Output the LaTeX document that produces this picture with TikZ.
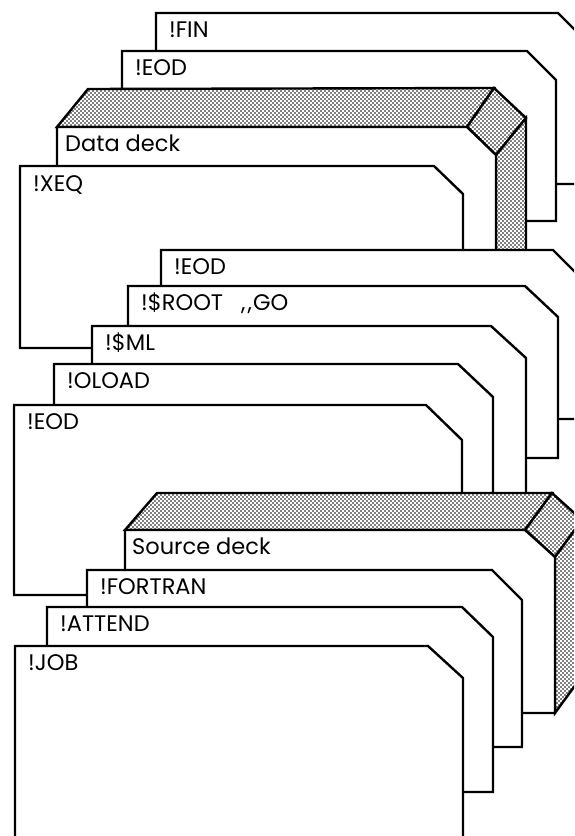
\documentclass[tikz,border=0pt]{standalone}
\usepackage{fontspec}
\setmainfont{Poppins}
\usetikzlibrary{patterns}
\pgfdeclarepatternformonly{halftone}{\pgfpoint{-0.1pt}{-0.1pt}}{\pgfpoint{4.1pt}{4.1pt}}{\pgfpoint{4pt}{4pt}}{%
  \pgfpathcircle{\pgfpoint{1pt}{1pt}}{0.85pt}\pgfpathcircle{\pgfpoint{3pt}{3pt}}{0.85pt}\pgfusepath{fill}}
\tikzset{
  cardline/.style={draw=black, line width=2.4pt, line join=miter, fill=white},
  shadeface/.style={draw=black, line width=2.4pt, line join=miter, preaction={fill=white}, pattern=halftone},
  lbl/.style={anchor=base west, inner sep=0pt, font=\fontsize{22.5}{22.5}\selectfont}
}
% L T C R Yc B
\newcommand\deckcard[6]{\filldraw[cardline] (#1,#6) -- (#1,#2) -- (#3,#2) -- (#4,#5) -- (#4,#6) -- cycle;}
\begin{document}
\begin{tikzpicture}[x=1pt,y=-1pt]
\useasboundingbox (0,0) rectangle (574,836);
\clip (0,0) rectangle (574,836);
% ---- section 3 ----
\deckcard{156}{13}{558}{590}{45}{184}
\deckcard{122}{51}{527}{556}{80}{221}
% data deck block
\filldraw[shadeface] (57,127) -- (88,89) -- (494,88) -- (467,127) -- cycle;
\filldraw[shadeface] (467,127) -- (494,88) -- (526,118) -- (496,155) -- cycle;
\filldraw[shadeface] (496,155) -- (526,118) -- (526,320) -- (496,320) -- cycle;
\deckcard{57}{127}{467}{496}{155}{320}
\deckcard{20}{166}{434}{463}{194}{348}
% ---- section 2 ----
\deckcard{161}{250}{553}{585}{282}{419}
\deckcard{128}{286}{525}{558}{317}{458}
\deckcard{92}{326}{491}{526}{358}{520}
\deckcard{54}{364}{458}{493}{397}{540}
\deckcard{14}{405}{426}{462}{440}{595}
% ---- section 1 ----
\filldraw[shadeface] (125,530) -- (157,493) -- (552,493) -- (525,530) -- cycle;
\filldraw[shadeface] (525,530) -- (552,493) -- (582,520) -- (555,557) -- cycle;
\filldraw[shadeface] (555,557) -- (582,520) -- (582,676) -- (555,713) -- cycle;
\deckcard{125}{530}{525}{555}{557}{713}
\deckcard{87}{570}{492}{522}{600}{747}
\deckcard{47}{607}{462}{493}{637}{792}
\deckcard{15}{646}{428}{463}{678}{860}
% ---- labels ----
\node[lbl] (tfin)   at (169,37)  {!FIN};
\node[lbl] (teodb)  at (135,75)  {!EOD};
\node[lbl] (tdata)  at (65,151)  {Data deck};
\node[lbl] (txeq)   at (33,191)  {!XEQ};
\node[lbl] (teodc)  at (174,274) {!EOD};
\node[lbl] (troot)  at (141,310) {!\$ROOT\hspace{0.8em},\kern2pt,\kern1pt GO};
\node[lbl] (tml)    at (105,350) {!\$ML};
\node[lbl] (tload)  at (67,388)  {!OLOAD};
\node[lbl] (teodd)  at (27,429)  {!EOD};
\node[lbl] (tsrc)   at (132,554) {Source deck};
\node[lbl] (tfort)  at (100,594) {!FORTRAN};
\node[lbl] (tatt)   at (60,631)  {!ATTEND};
\node[lbl] (tjob)   at (28,670)  {!JOB};
\end{tikzpicture}
\end{document}
